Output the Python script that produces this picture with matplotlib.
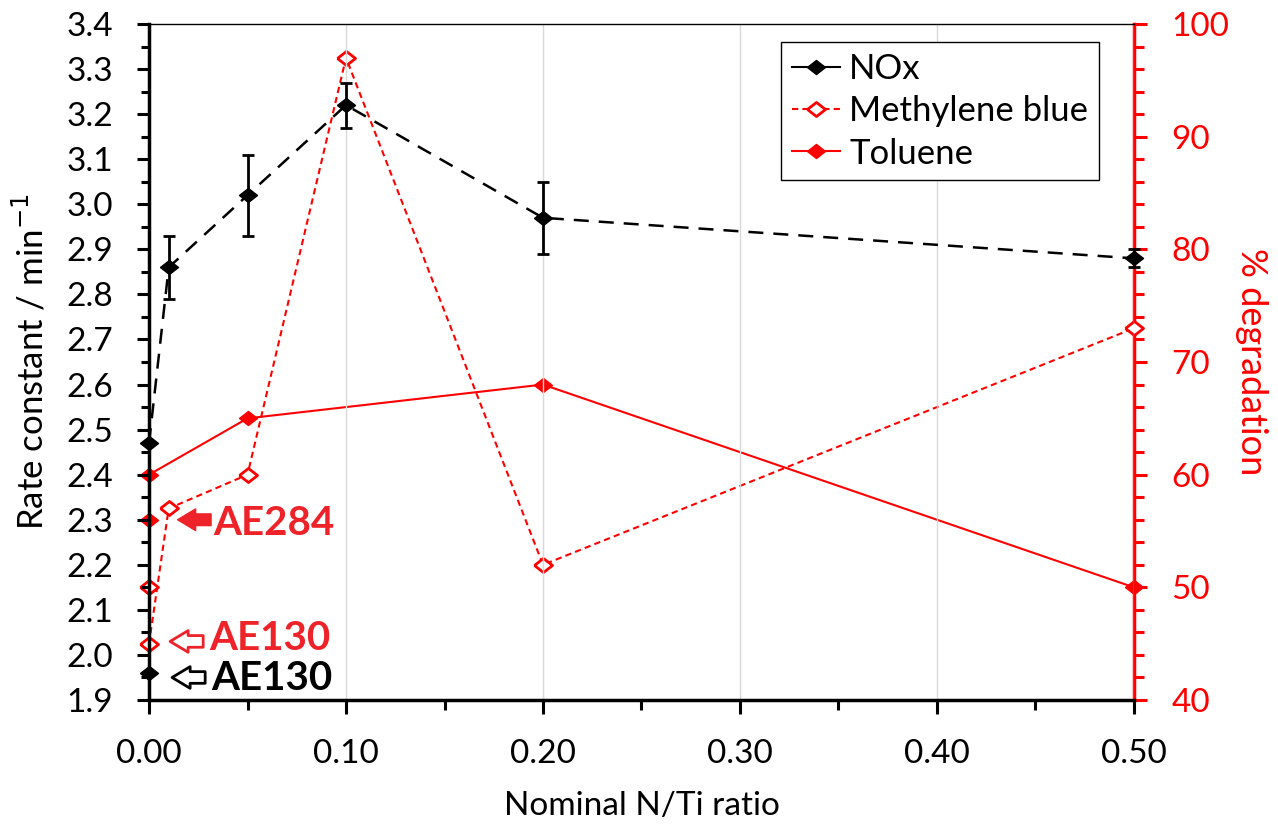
import matplotlib
matplotlib.use('Agg')
import matplotlib.pyplot as plt
from matplotlib.ticker import MultipleLocator, FormatStrFormatter

plt.rcParams['font.family'] = ['Lato', 'DejaVu Sans']

# NOx rate constants (left axis)
nox_x = [0.00, 0.01, 0.05, 0.10, 0.20, 0.50]
nox_k = [2.47, 2.86, 3.02, 3.22, 2.97, 2.88]
nox_err = [0.0, 0.07, 0.09, 0.05, 0.08, 0.02]
nox_ae130 = 1.96

# methylene blue % degradation (right axis), first point is AE130
mb_x = [0.00, 0.01, 0.05, 0.10, 0.20, 0.50]
mb_deg = [45, 57, 60, 97, 52, 73]
mb_ref = 50

# toluene % degradation (right axis), first point is AE284
tol_x = [0.00, 0.00, 0.05, 0.20, 0.50]
tol_deg = [56, 60, 65, 68, 50]

red = '#ff0000'
lab_red = '#ee2229'
# slightly wide diamond, like the original
dia = [(-1, 0), (0, 0.78), (1, 0), (0, -0.78), (-1, 0)]
ms = 13

fig = plt.figure(figsize=(12.78, 8.25), dpi=100)
ax1 = fig.add_axes([0.1166, 0.1515, 0.7707, 0.8194])
ax2 = ax1.twinx()
ax1.set_zorder(ax2.get_zorder() + 1)
ax1.patch.set_visible(False)

# NOx
ax1.plot(nox_x, nox_k, color='black', ls=(0, (6, 4)), lw=1.8,
         marker=dia, ms=ms, mfc='black', mec='black', clip_on=False, zorder=5)
ax1.errorbar(nox_x, nox_k, yerr=nox_err, fmt='none', ecolor='black',
             elinewidth=2, capsize=4, capthick=2, clip_on=False, zorder=5)
ax1.plot([0.0], [nox_ae130], ls='none', marker=dia, ms=ms, color='black', clip_on=False, zorder=5)
l1, = ax1.plot([], [], color='black', lw=1.5, marker=dia, ms=ms)

# methylene blue and toluene
l2, = ax2.plot(mb_x, mb_deg, color=red, ls=(0, (3, 2)), lw=1.5,
               marker=dia, ms=ms, mfc='white', mec=red, mew=2, clip_on=False, zorder=4)
ax2.plot([0.0], [mb_ref], ls='none', marker=dia, ms=ms, mfc='white', mec=red, mew=2,
         clip_on=False, zorder=4)
l3, = ax2.plot(tol_x, tol_deg, color=red, lw=1.5, marker=dia, ms=ms,
               mfc=red, mec=red, clip_on=False, zorder=4)

# axes limits and ticks
ax1.set_xlim(0, 0.5)
ax1.set_ylim(1.9, 3.4)
ax2.set_ylim(40, 100)
ax1.xaxis.set_major_locator(MultipleLocator(0.1))
ax1.xaxis.set_minor_locator(MultipleLocator(0.05))
ax1.xaxis.set_major_formatter(FormatStrFormatter('%.2f'))
ax1.yaxis.set_major_locator(MultipleLocator(0.1))
ax1.yaxis.set_minor_locator(MultipleLocator(0.05))
ax1.yaxis.set_major_formatter(FormatStrFormatter('%.1f'))
ax2.yaxis.set_major_locator(MultipleLocator(10))
ax2.yaxis.set_minor_locator(MultipleLocator(2))

ax1.grid(axis='x', which='major', color='#d9d9d9', lw=1)
ax1.tick_params(axis='x', which='major', direction='out', length=10, width=2.2,
                labelsize=24, pad=18)
ax1.tick_params(axis='x', which='minor', direction='out', length=7, width=2.2)
ax1.tick_params(axis='y', which='major', direction='out', length=9, width=2.2,
                labelsize=24, pad=17)
ax1.tick_params(axis='y', which='minor', direction='out', length=6, width=2.2)
ax1.tick_params(axis='y', right=False, which='both')
ax2.tick_params(axis='y', which='major', direction='out', length=9, width=2.2,
                labelsize=24, colors=red, pad=18)
ax2.tick_params(axis='y', which='minor', direction='out', length=7, width=2.2, colors=red)

for s in ['left', 'bottom']:
    ax1.spines[s].set_linewidth(2.5)
ax1.spines['top'].set_linewidth(1)
ax1.spines['right'].set_visible(False)
for s in ['left', 'bottom', 'top']:
    ax2.spines[s].set_visible(False)
ax2.spines['right'].set_color(red)
ax2.spines['right'].set_linewidth(2.5)

ax1.set_xlabel('Nominal N/Ti ratio', fontsize=24, labelpad=16)
ax1.set_ylabel('Rate constant / min$^{-1}$', fontsize=25, labelpad=12)
ax2.set_ylabel('% degradation', fontsize=26, color=red, rotation=270, labelpad=28)

# sample labels with block arrows
arrow = 'simple,head_length=0.65,head_width=0.78,tail_width=0.42'
ax2.annotate('', xy=(0.0145, 56), xytext=(0.0315, 56),
             arrowprops=dict(arrowstyle=arrow, fc=lab_red, ec=lab_red, lw=1,
                             mutation_scale=20, shrinkA=0, shrinkB=0))
ax2.text(0.0325, 55.7, 'AE284', color=lab_red, fontsize=29, fontweight='bold', va='center')
ax2.annotate('', xy=(0.0107, 45.2), xytext=(0.0275, 45.2),
             arrowprops=dict(arrowstyle=arrow, fc='white', ec=lab_red, lw=2,
                             mutation_scale=20, shrinkA=0, shrinkB=0))
ax2.text(0.0305, 45.5, 'AE130', color=lab_red, fontsize=29, fontweight='bold', va='center')
ax1.annotate('', xy=(0.0117, 1.95), xytext=(0.0285, 1.95),
             arrowprops=dict(arrowstyle=arrow, fc='white', ec='black', lw=2,
                             mutation_scale=20, shrinkA=0, shrinkB=0))
ax1.text(0.0315, 1.948, 'AE130', color='black', fontsize=29, fontweight='bold', va='center')

leg = ax1.legend([l1, l2, l3], ['NOx', 'Methylene blue', 'Toluene'],
                 loc='upper right', bbox_to_anchor=(0.964, 0.973), borderaxespad=0,
                 fontsize=25, fancybox=False, edgecolor='black', framealpha=1,
                 handlelength=1.4, handletextpad=0.25, labelspacing=0.3, borderpad=0.3)
leg.get_frame().set_linewidth(1)

plt.savefig('out.png', dpi=100)
